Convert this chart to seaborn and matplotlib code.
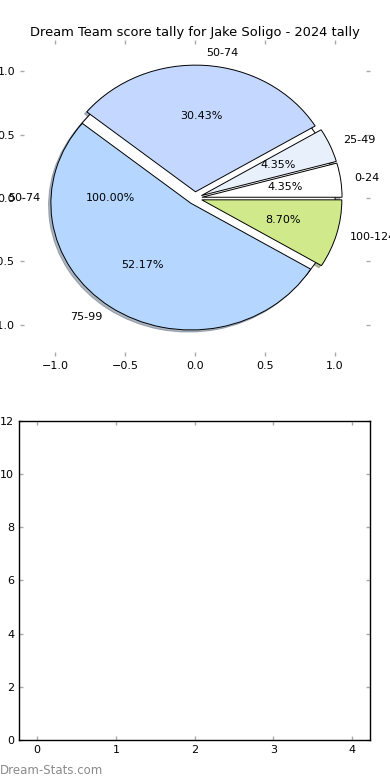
import matplotlib
matplotlib.use("Agg")
import matplotlib.pyplot as plt
import seaborn as sns

# score bands and games counted in each
bands = ["0-24", "25-49", "50-74", "75-99", "100-124"]
games = [1, 1, 7, 12, 2]
band_colors = ["#ffffff", "#e8f0fc", "#c4d8ff", "#b4d6ff", "#d0e98a"]
explode = [0.05, 0.05, 0.05, 0.05, 0.05]

# background pie (single band)
base_labels = ["50-74"]
base_values = [7]

ticks_top = [-1.0, -0.5, 0.0, 0.5, 1.0]
ticks_bottom_x = [0, 1, 2, 3, 4]
ticks_bottom_y = [0, 2, 4, 6, 8, 10, 12]

sns.set_theme(style="white", rc={
    "xtick.direction": "in",
    "ytick.direction": "in",
    "xtick.top": True,
    "ytick.right": True,
    "xtick.bottom": True,
    "ytick.left": True,
    "xtick.color": "#aaaaaa",
    "ytick.color": "#aaaaaa",
    "xtick.labelcolor": "black",
    "ytick.labelcolor": "black",
    "xtick.major.size": 3,
    "ytick.major.size": 3,
    "xtick.major.width": 1,
    "ytick.major.width": 1,
    "xtick.labelsize": 8,
    "ytick.labelsize": 8,
    "axes.edgecolor": "black",
    "axes.linewidth": 1.0,
    "text.color": "black",
    "axes.titlecolor": "black",
})
plt.rcParams["font.family"] = ["DejaVu Sans"]

fig = plt.figure(figsize=(3.9, 7.8), dpi=100)
ax1 = fig.add_axes([0.051, 0.543, 0.898, 0.406])
ax2 = fig.add_axes([0.049, 0.0513, 0.9, 0.409])

wp = {"edgecolor": "black", "linewidth": 0.7}
shadow = {"ox": -0.012, "oy": -0.012, "shade": 0.5}
ax1.pie(base_values, labels=base_labels, colors=["#ffffff"], autopct="%.2f%%",
        shadow=shadow, wedgeprops=wp, textprops={"fontsize": 8, "color": "black"},
        frame=True)
ax1.pie(games, labels=bands, colors=band_colors, explode=explode, autopct="%.2f%%",
        shadow=shadow, wedgeprops=wp, textprops={"fontsize": 8, "color": "black"},
        frame=True)

ax1.set_aspect("auto")
ax1.set_xlim(-1.25, 1.25)
ax1.set_ylim(-1.25, 1.25)
ax1.set_xticks(ticks_top)
ax1.set_yticks(ticks_top)
ax1.set_frame_on(False)
ax1.set_title("Dream Team score tally for Jake Soligo - 2024 tally", fontsize=9.4, pad=3)

ax2.set_xlim(-0.23, 4.23)
ax2.set_ylim(0, 12)
ax2.set_xticks(ticks_bottom_x)
ax2.set_yticks(ticks_bottom_y)

fig.text(0.0, 0.004, "Dream-Stats.com", fontsize=8.5, color="#8a8a8a", ha="left", va="bottom")

fig.savefig("out.png", dpi=100)
